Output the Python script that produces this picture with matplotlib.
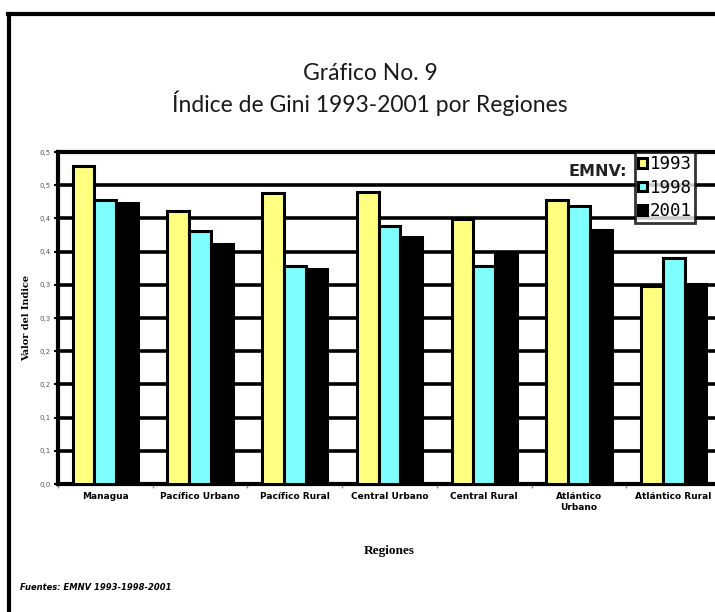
import numpy as np
import matplotlib
matplotlib.use("Agg")
import matplotlib.pyplot as plt
from matplotlib.lines import Line2D

regiones = ["Managua", "Pacífico Urbano", "Pacífico Rural", "Central Urbano",
            "Central Rural", "Atlántico\nUrbano", "Atlántico Rural"]
anios = ["1993", "1998", "2001"]
gini_1993 = [0.479, 0.411, 0.438, 0.440, 0.399, 0.428, 0.298]
gini_1998 = [0.428, 0.381, 0.328, 0.389, 0.328, 0.419, 0.340]
gini_2001 = [0.423, 0.361, 0.324, 0.372, 0.349, 0.383, 0.301]
yticks = [0.0, 0.05, 0.10, 0.15, 0.20, 0.25, 0.30, 0.35, 0.40, 0.45, 0.50]
ytick_labels = ["0,0", "0,1", "0,1", "0,2", "0,2", "0,3", "0,3", "0,4", "0,4", "0,5", "0,5"]

colores = ["#ffff80", "#80ffff", "#000000"]

fig = plt.figure(figsize=(7.15, 6.12), dpi=100)

# outer frame (left and top edges visible in the scan)
fig.add_artist(Line2D([0.013, 0.013], [0.0, 0.977], color="black", lw=3))
fig.add_artist(Line2D([0.011, 1.0], [0.977, 0.977], color="black", lw=3))

# axes: left at x=58px, bottom at y=484px, top at 152px; runs past right edge
ax = fig.add_axes([58 / 715, (612 - 484) / 612, 663 / 715, 332 / 612])

x = np.arange(len(regiones))
w = 0.23
series = [gini_1993, gini_1998, gini_2001]
for i, vals in enumerate(series):
    ax.bar(x + (i - 1) * w, vals, w, color=colores[i], edgecolor="black",
           linewidth=2.2, zorder=3, label=anios[i])

ax.set_xlim(-0.5, len(regiones) - 0.5)
ax.set_ylim(0, 0.5)
ax.set_yticks(yticks)
ax.set_yticklabels(ytick_labels, fontsize=5, color="#555555")
ax.yaxis.grid(True, color="black", lw=2.6, zorder=0)
ax.set_axisbelow(True)

ax.set_xticks(x)
ax.set_xticklabels(regiones, fontsize=6.5, fontweight="bold")
ax.tick_params(axis="x", length=0, pad=6)
ax.set_xticks(np.arange(len(regiones) + 1) - 0.5, minor=True)
ax.tick_params(axis="x", which="minor", length=3, width=1, color="#888888")
ax.tick_params(axis="y", length=3, width=1.5, pad=2)

for s in ["left", "bottom", "top"]:
    ax.spines[s].set_linewidth(3)
ax.spines["right"].set_visible(False)

ax.set_ylabel("Valor del Indice", fontsize=7, fontweight="bold", family="DejaVu Serif",
              labelpad=6)
ax.set_xlabel("Regiones", fontsize=9.5, fontweight="bold", family="Liberation Serif",
              labelpad=24)

leg = ax.legend(loc="upper left", bbox_to_anchor=((635 - 58) / 663, 1.0),
                frameon=True, fancybox=False, edgecolor="black",
                handlelength=0.5, handleheight=0.5, handletextpad=0.15,
                borderpad=0.2, labelspacing=0.3, borderaxespad=0.0,
                prop={"family": "DejaVu Sans Mono", "size": 12.5})
leg.get_frame().set_linewidth(2)
leg.set_zorder(5)

ax.text((627 - 58) / 663, (484 - 171) / 332, "EMNV:", transform=ax.transAxes,
        ha="right", va="center", fontsize=11.5, family="Liberation Sans Narrow",
        fontweight="bold", color="#222222", zorder=6)

fig.text(370 / 715, 1 - 73 / 612, "Gráfico No. 9", ha="center", va="center",
         fontsize=16.5, family="Lato", color="#1a1a1a")
fig.text(370 / 715, 1 - 103 / 612, "Índice de Gini 1993-2001 por Regiones",
         ha="center", va="center", fontsize=16.5, family="Lato", color="#1a1a1a")

fig.text(20 / 715, 1 - 587 / 612, "Fuentes: EMNV 1993-1998-2001", ha="left",
         va="center", fontsize=6, style="italic", fontweight="bold")

fig.savefig("out.png", dpi=100)
